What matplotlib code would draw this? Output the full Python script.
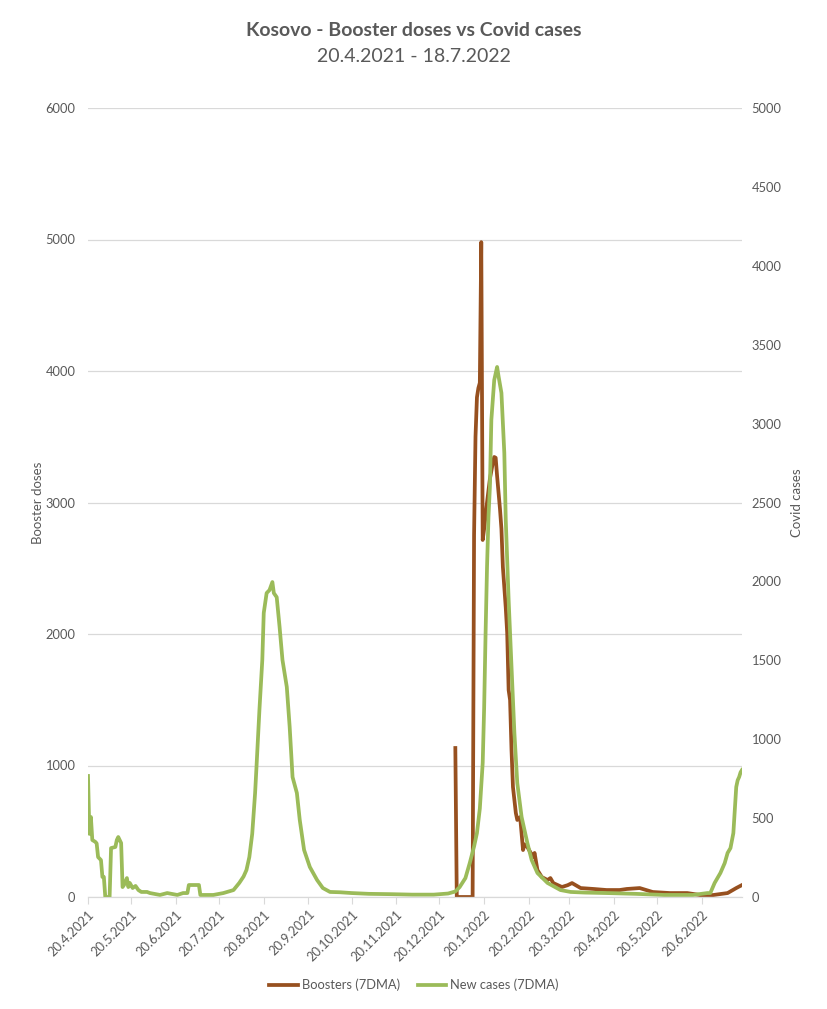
import matplotlib

matplotlib.use("Agg")

import matplotlib.pyplot as plt
import matplotlib.dates as mdates
import matplotlib.ticker as mticker
import pandas as pd

plt.rcParams["font.family"] = ["Lato", "DejaVu Sans"]

START = pd.Timestamp("2021-04-20")
END = pd.Timestamp("2022-07-18")

# New cases (7DMA), right axis -- x as days after 20.4.2021
case_day = [0, 1, 2, 3, 5, 6, 7, 9, 10, 11, 12, 15, 16, 19, 20, 21, 23, 24, 25, 27,
            28, 29, 31, 33, 35, 37, 41, 43, 50, 55, 62, 66, 69, 70, 77, 78, 87, 94, 101, 105,
            108, 110, 112, 114, 116, 117, 119, 121, 122, 124, 126, 128, 129, 131, 133, 135, 138, 140, 142, 145,
            147, 150, 154, 159, 163, 168, 175, 183, 195, 210, 225, 240, 250, 255, 258, 262, 265, 268, 270, 272,
            274, 275, 276, 277, 278, 279, 280, 282, 284, 285, 287, 289, 290, 292, 294, 296, 298, 301, 305, 308,
            312, 319, 328, 335, 345, 360, 380, 400, 420, 430, 432, 435, 439, 442, 444, 446, 448, 449, 450, 451,
            452, 453, 454]
case_val = [767, 400, 507, 361, 350, 340, 253, 234, 127, 127, 0, 0, 310, 317, 361, 380, 342, 63, 76, 120,
            63, 89, 57, 70, 44, 32, 32, 25, 13, 25, 13, 25, 25, 76, 76, 13, 13, 25, 44, 89,
            130, 171, 253, 400, 659, 830, 1185, 1502, 1800, 1926, 1945, 1996, 1926, 1900, 1711, 1502, 1331, 1077, 760, 659,
            488, 298, 190, 108, 57, 32, 30, 25, 20, 18, 15, 15, 22, 35, 63, 120, 215, 320, 405, 560,
            850, 1200, 1673, 2091, 2408, 2600, 3023, 3276, 3359, 3300, 3194, 2814, 2389, 1882, 1458, 1039, 722, 507, 342, 234,
            152, 89, 44, 32, 28, 25, 20, 13, 13, 25, 25, 89, 152, 215, 279, 310, 405, 551, 697, 740,
            760, 790, 805]

# Boosters (7DMA), left axis
boost_day = [255, 256, 267, 268, 269, 270, 271, 272, 273, 274, 275, 277, 279, 281, 282, 283, 284, 286, 287, 288,
             290, 291, 292, 293, 294, 295, 297, 298, 300, 302, 303, 305, 309, 310, 312, 315, 319, 321, 323, 329,
             333, 336, 342, 351, 360, 369, 374, 383, 392, 404, 416, 425, 434, 444, 450, 454]
boost_val = [1133, 0, 0, 2750, 3500, 3800, 3870, 3910, 4980, 2715, 2800, 3000, 3180, 3300, 3346, 3340, 3200, 2950, 2800, 2510,
             2200, 2008, 1574, 1498, 1118, 837, 639, 586, 608, 357, 400, 380, 304, 335, 205, 152, 129, 144, 106, 76,
             90, 106, 68, 61, 53, 53, 61, 68, 38, 30, 30, 15, 15, 30, 68, 91]

BROWN = "#97501F"
GREEN = "#9BBB59"
TXT = "#595959"
GRID = "#D9D9D9"

case_x = START + pd.to_timedelta(case_day, unit="D")
boost_x = START + pd.to_timedelta(boost_day, unit="D")

fig = plt.figure(figsize=(8.28, 10.09), dpi=100)
ax = fig.add_axes([88 / 828, 112 / 1009, 654 / 828, 789 / 1009])
ax2 = ax.twinx()

ax.plot(boost_x, boost_val, color=BROWN, lw=2.7, solid_joinstyle="round", label="Boosters (7DMA)")
ax2.plot(case_x, case_val, color=GREEN, lw=2.7, solid_joinstyle="round", label="New cases (7DMA)")

ax.set_xlim(START, END)
ax.set_ylim(0, 6000)
ax2.set_ylim(0, 5000)
ax.yaxis.set_major_locator(mticker.MultipleLocator(1000))
ax2.yaxis.set_major_locator(mticker.MultipleLocator(500))
ax.grid(axis="y", color=GRID, lw=0.9)
ax.set_axisbelow(True)

ax.xaxis.set_major_locator(mdates.DayLocator(bymonthday=20))
ax.xaxis.set_major_formatter(mticker.FuncFormatter(
    lambda v, _: (lambda d: f"{d.day}.{d.month}.{d.year}")(mdates.num2date(v))))

for a in (ax, ax2):
    for s in ("top", "left", "right"):
        a.spines[s].set_visible(False)
    a.spines["bottom"].set_color(GRID)
    a.tick_params(colors=TXT, labelsize=9.3)
ax.tick_params(axis="y", length=0, pad=9)
ax2.tick_params(axis="y", length=0, pad=7)
ax.tick_params(axis="x", length=5, color=GRID, pad=3)
plt.setp(ax.get_xticklabels(), rotation=45, ha="right", rotation_mode="anchor")

ax.set_ylabel("Booster doses", color=TXT, fontsize=9.5, labelpad=1)
ax2.set_ylabel("Covid cases", color=TXT, fontsize=9.5, labelpad=7)

fig.text(0.5, 1 - 30 / 1009, "Kosovo - Booster doses vs Covid cases", ha="center", va="center",
         fontsize=14, fontweight="bold", color=TXT)
fig.text(0.5, 1 - 56 / 1009, "20.4.2021 - 18.7.2022", ha="center", va="center",
         fontsize=14, color=TXT)

h1, l1 = ax.get_legend_handles_labels()
h2, l2 = ax2.get_legend_handles_labels()
leg = fig.legend(h1 + h2, l1 + l2, loc="center", bbox_to_anchor=(0.5, 24 / 1009), ncol=2,
                 frameon=False, fontsize=9.3, handlelength=2.2, handletextpad=0.3, columnspacing=1.4)
for t in leg.get_texts():
    t.set_color(TXT)

fig.savefig("out.png", dpi=100)
